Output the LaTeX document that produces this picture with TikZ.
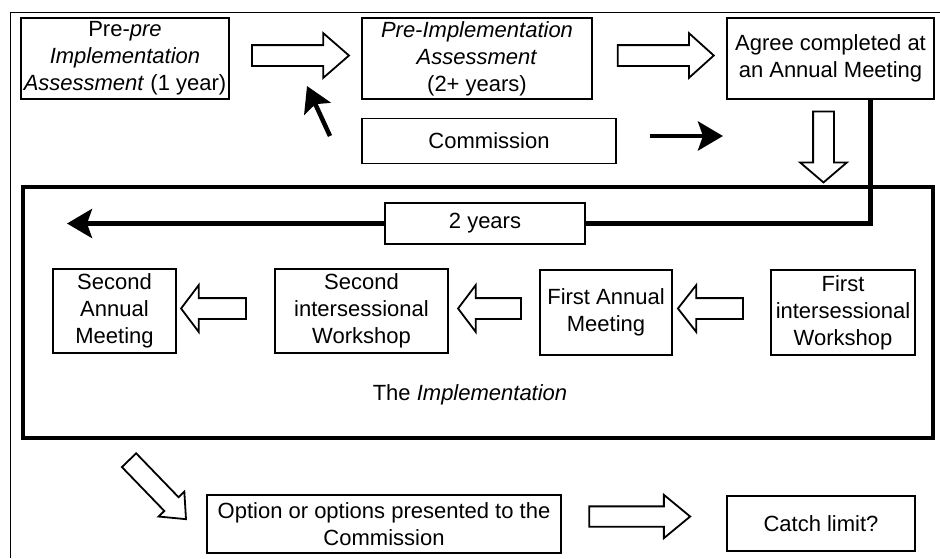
\documentclass[tikz,border=0pt]{standalone}
\usepackage{fontspec}
\setmainfont{Liberation Sans}
\usetikzlibrary{shapes.arrows,arrows.meta}

\tikzset{
  stagebox/.style={draw, line width=1.8pt, align=center, inner sep=0pt},
  hollow/.style={single arrow, draw, line width=1.8pt, inner sep=0pt,
    text height=19pt, text depth=0pt, text width=0pt},
  thickline/.style={line width=4.5pt},
  bigarrow/.style={line width=4.5pt, -{Stealth[length=25pt,width=29pt,inset=5pt]}}
}

\begin{document}
\begin{tikzpicture}[x=1pt, y=-1pt, every node/.style={font=\fontsize{22pt}{27pt}\selectfont}]
    \useasboundingbox (0,0) rectangle (940,558);
    \draw[line width=1pt] (10,558) -- (10,12) -- (940,12);

    \node[stagebox, minimum width=208pt, minimum height=81pt] (prepre) at (125,58.5)
        {Pre-\textit{pre}\\\textit{Implementation}\\\textit{Assessment} (1 year)};
    \node[stagebox, minimum width=230pt, minimum height=81pt] (preimpl) at (477,58.5)
        {\textit{Pre-Implementation}\\\textit{Assessment}\\(2+ years)};
    \node[stagebox, minimum width=207pt, minimum height=81pt] (agree) at (830.5,58.5)
        {Agree completed at\\an Annual Meeting};
    \node[stagebox, minimum width=254pt, minimum height=45pt] (commission) at (489,141) {Commission};

    \node[hollow, minimum height=97pt, single arrow head extend=12pt, single arrow tip angle=82] (toPreImpl) at (294.5,55.5) {};
    \node[hollow, minimum height=96pt, single arrow head extend=12pt, single arrow tip angle=84] (toAgree) at (660,55.5) {};
    \node[hollow, rotate=-90, minimum height=71pt, single arrow head extend=13pt, single arrow tip angle=99] (toImpl) at (823.5,142.5) {};

    \coordinate (commTail) at (330,136);
    \coordinate (commTip) at (307,86);
    \draw[bigarrow] (commTail) -- (commTip);
    \coordinate (agreeTail) at (650,136);
    \coordinate (agreeTip) at (723,136);
    \draw[bigarrow] (agreeTail) -- (agreeTip);

    \node[draw, line width=4.5pt, minimum width=910pt, minimum height=251pt] (impl) at (478,312.5) {};
    \node (implText) at (470,395) {The \textit{Implementation}};

    \node[stagebox, minimum width=200pt, minimum height=41pt] (twoyears) at (485,223.5) {2 years};
    \draw[thickline] (agree.south) ++(40,0) |- (twoyears.east);
    \coordinate (yearsTip) at (67,223.5);
    \draw[bigarrow] (twoyears.west) -- (yearsTip);

    \node[stagebox, minimum width=123pt, minimum height=84pt] (secAnnual) at (114.5,311)
        {Second\\Annual\\Meeting};
    \node[stagebox, minimum width=173pt, minimum height=84pt] (secWork) at (361.5,311)
        {Second\\intersessional\\Workshop};
    \node[stagebox, minimum width=132pt, minimum height=85pt] (firstAnnual) at (606,312.5)
        {First Annual\\Meeting};
    \node[stagebox, minimum width=144pt, minimum height=85pt] (firstWork) at (843,312.5)
        {First\\intersessional\\Workshop};

    \node[hollow, rotate=180, minimum height=65pt, single arrow head extend=13pt, single arrow tip angle=106] (toSecAnnual) at (217.5,308.5) {};
    \node[hollow, rotate=180, minimum height=63pt, single arrow head extend=13pt, single arrow tip angle=106] (toSecWork) at (493.5,308.5) {};
    \node[hollow, rotate=180, minimum height=65pt, single arrow head extend=13pt, single arrow tip angle=104] (toFirstAnnual) at (714.5,308.5) {};

    \node[hollow, rotate=-46, minimum height=82pt, text height=18pt, single arrow head extend=8pt, single arrow tip angle=81] (toOption) at (153.5,485.5) {};
    \node[stagebox, minimum width=354pt, minimum height=58pt] (option) at (384,524)
        {Option or options presented to the\\Commission};
    \node[hollow, minimum height=101pt, text height=18.5pt, single arrow head extend=11.5pt, single arrow tip angle=79] (toCatch) at (633.5,516.5) {};
    \node[stagebox, minimum width=188pt, minimum height=55pt] (catch) at (821,523.5) {Catch limit?};
\end{tikzpicture}
\end{document}
